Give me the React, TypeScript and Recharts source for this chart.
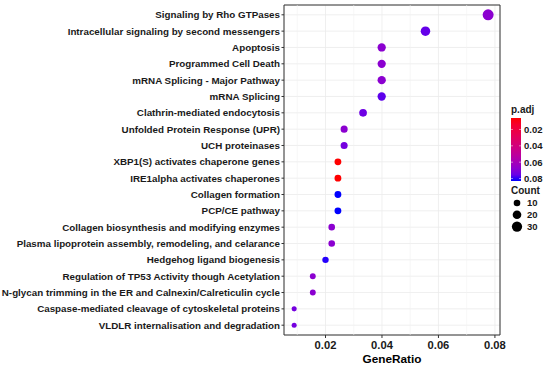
import React from 'react';
import { ScatterChart, Scatter, XAxis, YAxis, ZAxis, CartesianGrid, ReferenceLine, ReferenceArea, Cell } from 'recharts';

const pathways = [
  'Signaling by Rho GTPases',
  'Intracellular signaling by second messengers',
  'Apoptosis',
  'Programmed Cell Death',
  'mRNA Splicing - Major Pathway',
  'mRNA Splicing',
  'Clathrin-mediated endocytosis',
  'Unfolded Protein Response (UPR)',
  'UCH proteinases',
  'XBP1(S) activates chaperone genes',
  'IRE1alpha activates chaperones',
  'Collagen formation',
  'PCP/CE pathway',
  'Collagen biosynthesis and modifying enzymes',
  'Plasma lipoprotein assembly, remodeling, and celarance',
  'Hedgehog ligand biogenesis',
  'Regulation of TP53 Activity though Acetylation',
  'N-glycan trimming in the ER and Calnexin/Calreticulin cycle',
  'Caspase-mediated cleavage of cytoskeletal proteins',
  'VLDLR internalisation and degradation',
];

const geneRatio = [
  0.0776, 0.0554, 0.0399, 0.0399, 0.0399, 0.0399, 0.0333, 0.0266, 0.0266, 0.0244,
  0.0244, 0.0244, 0.0244, 0.0222, 0.0222, 0.02, 0.0155, 0.0155, 0.0089, 0.0089,
];

const counts = [35, 25, 18, 18, 18, 18, 15, 12, 12, 11, 11, 11, 11, 10, 10, 9, 7, 7, 4, 4];

const pAdj = [
  0.068, 0.076, 0.068, 0.068, 0.068, 0.077, 0.0745, 0.068, 0.073, 0.006,
  0.006, 0.083, 0.083, 0.068, 0.068, 0.082, 0.068, 0.068, 0.073, 0.073,
];

const xTicks = [0.02, 0.04, 0.06, 0.08];
const xMinor = [0.01, 0.03, 0.05, 0.07];
const pTicks = [0.02, 0.04, 0.06, 0.08];
const countTicks = [10, 20, 30];

const P_MIN = 0.006;
const P_MAX = 0.083;
const X_DOMAIN: [number, number] = [0.0053, 0.0818];
const Y_DOMAIN: [number, number] = [-0.6, pathways.length - 0.4];

// red -> blue in Lab space, like ggplot's continuous gradient
const toLin = (c: number) => {
  c /= 255;
  return c <= 0.04045 ? c / 12.92 : Math.pow((c + 0.055) / 1.055, 2.4);
};
const fromLin = (c: number) => {
  const v = c <= 0.0031308 ? 12.92 * c : 1.055 * Math.pow(c, 1 / 2.4) - 0.055;
  return Math.round(Math.max(0, Math.min(1, v)) * 255);
};
const rgbToLab = ([r, g, b]: number[]) => {
  const R = toLin(r), G = toLin(g), B = toLin(b);
  const X = (0.4124 * R + 0.3576 * G + 0.1805 * B) / 0.95047;
  const Y = 0.2126 * R + 0.7152 * G + 0.0722 * B;
  const Z = (0.0193 * R + 0.1192 * G + 0.9505 * B) / 1.08883;
  const f = (t: number) => (t > 0.008856 ? Math.cbrt(t) : 7.787 * t + 16 / 116);
  return [116 * f(Y) - 16, 500 * (f(X) - f(Y)), 200 * (f(Y) - f(Z))];
};
const labToRgb = ([L, a, bb]: number[]) => {
  const fy = (L + 16) / 116;
  const fx = fy + a / 500;
  const fz = fy - bb / 200;
  const inv = (t: number) => (t * t * t > 0.008856 ? t * t * t : (t - 16 / 116) / 7.787);
  const X = inv(fx) * 0.95047, Y = inv(fy), Z = inv(fz) * 1.08883;
  const R = 3.2406 * X - 1.5372 * Y - 0.4986 * Z;
  const G = -0.9689 * X + 1.8758 * Y + 0.0415 * Z;
  const B = 0.0557 * X - 0.204 * Y + 1.057 * Z;
  return `rgb(${fromLin(R)},${fromLin(G)},${fromLin(B)})`;
};
const LOW = rgbToLab([255, 0, 0]);
const HIGH = rgbToLab([0, 0, 255]);
const pColor = (p: number) => {
  const t = Math.max(0, Math.min(1, (p - P_MIN) / (P_MAX - P_MIN)));
  return labToRgb(LOW.map((v, i) => v + (HIGH[i] - v) * t));
};

const data = pathways.map((name, i) => ({
  name,
  idx: i,
  ratio: geneRatio[i],
  count: counts[i],
  p: pAdj[i],
}));

const FONT = 'Liberation Sans, Arial, Helvetica, sans-serif';
const TEXT = '#1a1a1a';

const YTick = ({ x, y, payload }: any) => (
  <text x={x} y={y} dy={3.5} textAnchor="end" fontSize={9.8} fontWeight="bold" fontFamily={FONT} fill={TEXT}>
    {pathways[payload.value]}
  </text>
);

const XTick = ({ x, y, payload }: any) => (
  <text x={x} y={y} dy={10} textAnchor="middle" fontSize={11.2} fontWeight="bold" fontFamily={FONT} fill={TEXT}>
    {Number(payload.value).toFixed(2)}
  </text>
);

// colour bar + size legend, drawn to the right of the panel
function Legends() {
  const barTop = 118;
  const barH = 63;
  const pY = (p: number) => barTop + ((p - P_MIN) / (P_MAX - P_MIN)) * barH;
  const stops = Array.from({ length: 11 }, (_, i) => i / 10);
  const countR = (c: number) => Math.sqrt((20 + ((c - 4) / 31) * 75) / Math.PI);
  return (
    <svg width={550} height={366} style={{ position: 'absolute', left: 0, top: 0, pointerEvents: 'none' }}>
      <defs>
        <linearGradient id="padj" x1="0" y1="0" x2="0" y2="1">
          {stops.map((s) => (
            <stop key={s} offset={s} stopColor={pColor(P_MIN + s * (P_MAX - P_MIN))} />
          ))}
        </linearGradient>
      </defs>
      <g fontFamily={FONT} fontWeight="bold" fill={TEXT}>
        <text x={511} y={113} fontSize={10}>p.adj</text>
        <rect x={511} y={barTop} width={10} height={barH} fill="url(#padj)" />
        {pTicks.map((t) => (
          <g key={t}>
            <line x1={511} x2={513} y1={pY(t)} y2={pY(t)} stroke="#fff" strokeWidth={0.5} />
            <line x1={519} x2={521} y1={pY(t)} y2={pY(t)} stroke="#fff" strokeWidth={0.5} />
            <text x={524} y={pY(t) + 3.4} fontSize={9.5}>{t.toFixed(2)}</text>
          </g>
        ))}
        <text x={511} y={194} fontSize={10}>Count</text>
        {countTicks.map((c, i) => (
          <g key={c}>
            <circle cx={517} cy={203 + i * 11.8} r={countR(c)} fill="#000" />
            <text x={527} y={206.4 + i * 11.8} fontSize={9.5}>{c}</text>
          </g>
        ))}
      </g>
    </svg>
  );
}

export default function App() {
  return (
    <div style={{ position: 'absolute', left: 0, top: 0, width: 550, height: 366, background: '#fff' }}>
      <ScatterChart width={550} height={366} margin={{ top: 5, right: 50, bottom: 0, left: 0 }}>
        <CartesianGrid stroke="#EBEBEB" strokeWidth={0.8} />
        {xMinor.map((v) => (
          <ReferenceLine key={v} x={v} stroke="#F2F2F2" strokeWidth={0.6} />
        ))}
        <XAxis
          type="number"
          dataKey="ratio"
          domain={X_DOMAIN}
          allowDataOverflow
          ticks={xTicks}
          height={31}
          tickSize={3}
          tickMargin={1}
          axisLine={false}
          tickLine={{ stroke: '#333' }}
          tick={<XTick />}
          label={{
            value: 'GeneRatio',
            position: 'insideBottom',
            offset: 3,
            style: { fontSize: 11.8, fontWeight: 'bold', fill: '#000', fontFamily: FONT },
          }}
        />
        <YAxis
          type="number"
          dataKey="idx"
          domain={Y_DOMAIN}
          allowDataOverflow
          reversed
          ticks={pathways.map((_, i) => i)}
          interval={0}
          width={284}
          tickSize={2.5}
          tickMargin={1.5}
          axisLine={false}
          tickLine={{ stroke: '#333' }}
          tick={<YTick />}
        />
        <ZAxis type="number" dataKey="count" domain={[4, 35]} range={[20, 95]} />
        <Scatter data={data} isAnimationActive={false} shape="circle">
          {data.map((d) => (
            <Cell key={d.name} fill={pColor(d.p)} />
          ))}
        </Scatter>
        <ReferenceArea
          x1={X_DOMAIN[0]}
          x2={X_DOMAIN[1]}
          y1={Y_DOMAIN[0]}
          y2={Y_DOMAIN[1]}
          fill="none"
          stroke="#333"
          strokeWidth={1}
          ifOverflow="visible"
        />
      </ScatterChart>
      <Legends />
    </div>
  );
}
